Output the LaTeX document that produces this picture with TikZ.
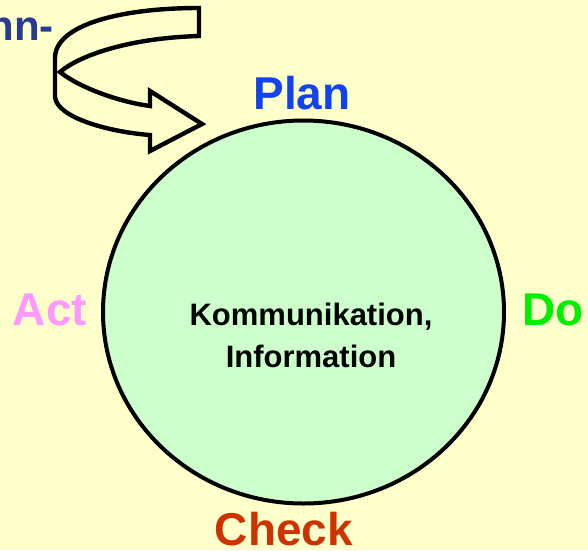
\documentclass[tikz,border=0pt]{standalone}
\usepackage{fontspec}
\setmainfont{Liberation Sans}
\usetikzlibrary{shapes.geometric}
\definecolor{paper}{HTML}{FFFFCC}
\definecolor{mint}{HTML}{CCFFCC}
\definecolor{planblue}{HTML}{1144EE}
\definecolor{dogreen}{HTML}{00EE00}
\definecolor{checkred}{HTML}{CC3300}
\definecolor{actpink}{HTML}{FF99FF}
\definecolor{navy}{HTML}{283A92}
\tikzset{
  phase/.style={font=\fontsize{46}{50}\selectfont\bfseries, inner sep=0pt},
  core/.style={font=\fontsize{31}{42}\selectfont\bfseries, align=center, inner sep=0pt},
  ribbon/.style={draw=black, line width=4.4pt, fill=paper, line join=miter},
}
\begin{document}
\begin{tikzpicture}[x=1pt, y=-1pt]
  % canvas
  \fill[paper] (0,0) rectangle (588,550);
  \useasboundingbox (0,0) rectangle (588,550);

  % central circle
  \node[ellipse, draw=black, line width=4pt, fill=mint,
        minimum width=401pt, minimum height=383pt, inner sep=0pt] (ring) at (303.5,312) {};

  % text in the circle (base anchor sits on the last line)
  \node[core, anchor=base] (info) at (311,367) {Kommunikation,\\Information};

  % phase labels around the circle
  \node[phase, text=planblue, anchor=base] (plan) at (302,109) {Plan};
  \node[phase, text=dogreen, anchor=base west] (do) at (522,325) {Do};
  \node[phase, text=checkred, anchor=base] (check) at (284,545) {Check};
  \node[phase, text=actpink, anchor=base] (act) at (50,325) {Act};

  % cut-off heading at the top left
  \node[font=\fontsize{42}{46}\selectfont\bfseries, text=navy, inner sep=0pt,
        anchor=base east] (head) at (54,40) {nn-};

  % twisted ribbon arrow leading into the cycle
  \path[ribbon] (199,8) .. controls (120,8) and (55,25) .. (55,58)
    -- (55,97) .. controls (57,118) and (110,132) .. (150,135)
    -- (150,151) -- (202,124) -- (150,91) -- (150,106)
    .. controls (120,102) and (80,88) .. (60,72)
    .. controls (80,55) and (130,38) .. (199,36) -- cycle;
\end{tikzpicture}
\end{document}
